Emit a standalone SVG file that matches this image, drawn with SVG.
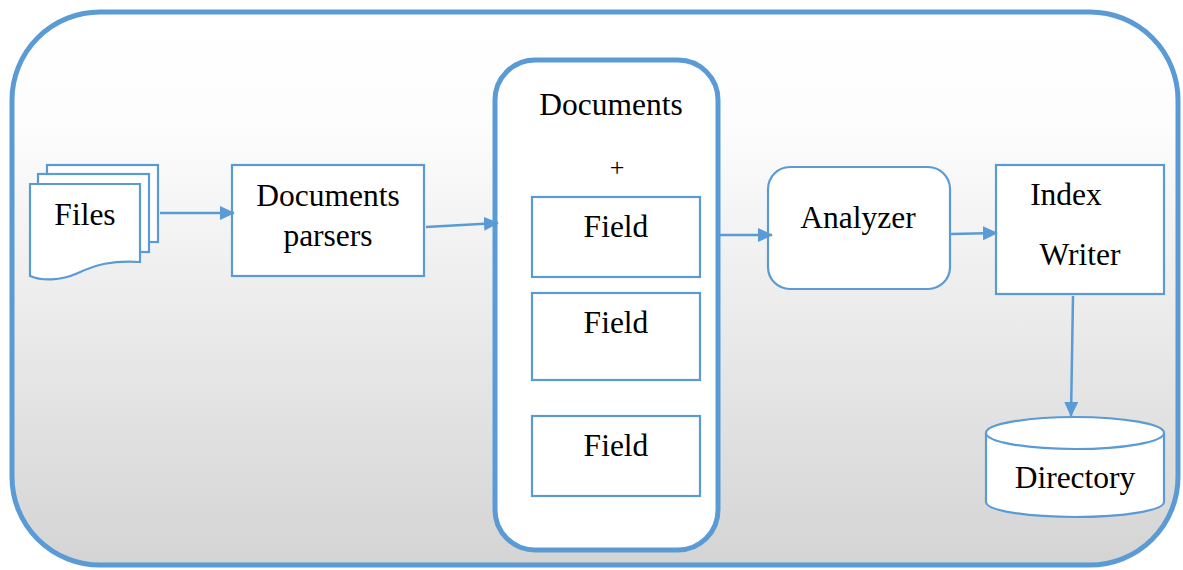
<svg xmlns="http://www.w3.org/2000/svg" width="1183" height="570" viewBox="0 0 1183 570">
  <defs>
    <linearGradient id="bg" x1="0" y1="0" x2="0" y2="1">
      <stop offset="0" stop-color="#ffffff"/>
      <stop offset="0.2" stop-color="#fdfdfd"/>
      <stop offset="1" stop-color="#d4d4d4"/>
    </linearGradient>
    <marker id="arrow" markerWidth="15" markerHeight="14" refX="14" refY="7" orient="auto" markerUnits="userSpaceOnUse" viewBox="0 0 15 14">
      <path d="M0,0 L15,7 L0,14 Z" fill="#5b9bd5"/>
    </marker>
    <style>
      .box { fill: #ffffff; stroke: #5b9bd5; stroke-width: 2.2; }
      .thick { fill: #ffffff; stroke: #5b9bd5; stroke-width: 5; }
      .link { fill: none; stroke: #5b9bd5; stroke-width: 2.5; marker-end: url(#arrow); }
      .label { font-family: 'Liberation Serif', 'Times New Roman', serif; font-size: 31.5px; fill: #000; text-anchor: middle; }
    </style>
  </defs>

  <!-- outer frame -->
  <rect x="12" y="12" width="1166" height="553" rx="88" ry="88" fill="url(#bg)" stroke="#5b9bd5" stroke-width="5"/>

  <!-- stacked files -->
  <g id="files">
    <rect class="box" x="47" y="165" width="111" height="77"/>
    <rect class="box" x="38" y="174" width="111" height="78"/>
    <path class="box" d="M30,184 H140 V262 C112,260 95,265 78,273 C60,281 42,281 30,276 Z"/>
    <text class="label" x="85" y="225">Files</text>
  </g>

  <g id="parsers">
    <rect class="box" x="232" y="165" width="192" height="111"/>
    <text class="label" x="328" y="206">Documents</text>
    <text class="label" x="328" y="246">parsers</text>
  </g>

  <g id="documents">
    <rect class="thick" x="495" y="60" width="223" height="490" rx="40" ry="40"/>
    <text class="label" x="611" y="115">Documents</text>
    <text class="label" x="617" y="176" style="font-size:26px">+</text>
  </g>

  <g id="field1">
    <rect class="box" x="532" y="197" width="168" height="80"/>
    <text class="label" x="616" y="237">Field</text>
  </g>

  <g id="field2">
    <rect class="box" x="532" y="293" width="168" height="87"/>
    <text class="label" x="616" y="333">Field</text>
  </g>

  <g id="field3">
    <rect class="box" x="532" y="416" width="168" height="80"/>
    <text class="label" x="616" y="456">Field</text>
  </g>

  <g id="analyzer">
    <rect class="box" x="768" y="167" width="182" height="122" rx="22" ry="22"/>
    <text class="label" x="858" y="228">Analyzer</text>
  </g>

  <g id="index-writer">
    <rect class="box" x="996" y="165" width="168" height="129"/>
    <text class="label" x="1066" y="205">Index</text>
    <text class="label" x="1080" y="265">Writer</text>
  </g>

  <g id="directory">
    <path class="box" d="M986,433 V502 A89,15 0 0 0 1164,502 V433"/>
    <ellipse class="box" cx="1075" cy="433" rx="89" ry="16"/>
    <text class="label" x="1075" y="488">Directory</text>
  </g>

  <!-- connectors -->
  <g id="connectors">
    <line class="link" x1="160" y1="213" x2="234" y2="213"/>
    <line class="link" x1="426" y1="227" x2="498" y2="223"/>
    <line class="link" x1="720" y1="235" x2="772" y2="235"/>
    <line class="link" x1="951" y1="234" x2="997" y2="233"/>
    <line class="link" x1="1073" y1="296" x2="1071" y2="416"/>
  </g>
</svg>
